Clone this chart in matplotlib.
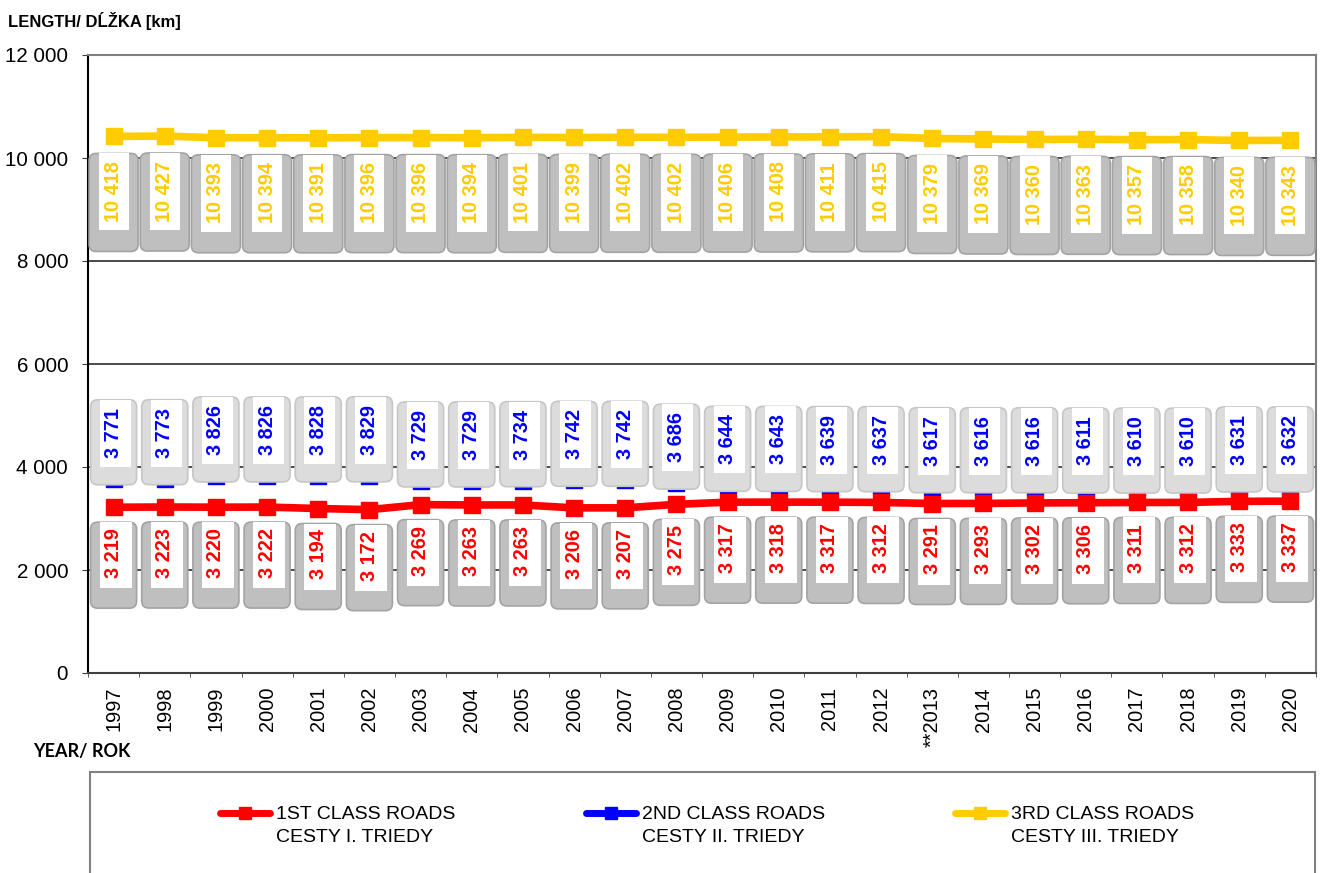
import matplotlib
matplotlib.use('Agg')
import matplotlib.pyplot as plt
from matplotlib.patches import FancyBboxPatch, Rectangle
from matplotlib.lines import Line2D
from matplotlib.transforms import ScaledTranslation
import numpy as np

plt.rcParams['font.family'] = ['Liberation Sans', 'DejaVu Sans']

# --- data ---
years = ['1997', '1998', '1999', '2000', '2001', '2002', '2003', '2004', '2005',
         '2006', '2007', '2008', '2009', '2010', '2011', '2012', '**2013', '2014',
         '2015', '2016', '2017', '2018', '2019', '2020']
roads_1st = [3219, 3223, 3220, 3222, 3194, 3172, 3269, 3263, 3263, 3206, 3207, 3275,
             3317, 3318, 3317, 3312, 3291, 3293, 3302, 3306, 3311, 3312, 3333, 3337]
roads_2nd = [3771, 3773, 3826, 3826, 3828, 3829, 3729, 3729, 3734, 3742, 3742, 3686,
             3644, 3643, 3639, 3637, 3617, 3616, 3616, 3611, 3610, 3610, 3631, 3632]
roads_3rd = [10418, 10427, 10393, 10394, 10391, 10396, 10396, 10394, 10401, 10399, 10402, 10402,
             10406, 10408, 10411, 10415, 10379, 10369, 10360, 10363, 10357, 10358, 10340, 10343]
yticks = [0, 2000, 4000, 6000, 8000, 10000, 12000]

RED = '#FF0000'
BLUE = '#0000FF'
YELLOW = '#FFCC00'
W, H = 1323, 873


def fmt(v):
    return f'{v:,}'.replace(',', ' ')


fig = plt.figure(figsize=(W / 100, H / 100), dpi=100)
ax = fig.add_axes([88 / W, 200 / H, 1228 / W, 618 / H])
x = np.arange(len(years))
ax.set_xlim(-0.5, len(years) - 0.5)
ax.set_ylim(0, 12000)

ax.set_yticks(yticks)
ax.set_yticklabels([fmt(v) for v in yticks])
ax.yaxis.grid(True, color='#1a1a1a', lw=1.1, zorder=0)
ax.set_axisbelow(True)

ax.set_xticks(x)
ax.set_xticklabels(years, rotation=90)
ax.set_xticks(np.arange(-0.5, len(years)), minor=True)
ax.tick_params(axis='x', which='major', length=0, pad=10, labelsize=14.4)
ax.tick_params(axis='x', which='minor', length=3, direction='out', color='#404040')
ax.tick_params(axis='y', length=4.3, direction='out', pad=10, labelsize=14.8, color='#404040')

ax.spines['left'].set_color('#000000')
ax.spines['bottom'].set_color('#404040')
ax.spines['top'].set_color('#808080')
ax.spines['right'].set_color('#808080')
for s in ax.spines.values():
    s.set_linewidth(1.5)


# label box: gray rounded "button" with white window, offsets in pixels from the point
def add_label(xi, yi, val, tcol, face, edge, box, white, ty, z):
    tr = fig.dpi_scale_trans + ScaledTranslation(xi, yi, ax.transData)
    bx0, by0, bx1, by1 = box
    wx0, wy0, wx1, wy1 = white
    ax.add_patch(FancyBboxPatch((bx0 / 100, by0 / 100), (bx1 - bx0) / 100, (by1 - by0) / 100,
                                boxstyle='round,pad=0,rounding_size=0.07', fc=face, ec=edge,
                                lw=1.2, transform=tr, zorder=z, clip_on=False))
    ax.add_patch(Rectangle((wx0 / 100, wy0 / 100), (wx1 - wx0) / 100, (wy1 - wy0) / 100,
                           fc='white', ec='none', transform=tr, zorder=z, clip_on=False))
    ax.text(0, ty / 100, fmt(val), transform=tr, rotation=90, ha='center', va='center',
            color=tcol, fontsize=14.4, fontweight='bold', zorder=z + 0.1)


kw = dict(lw=5.5, marker='s', ms=12, solid_joinstyle='miter')

# 2nd class: hidden behind its own labels, only marker edges peek out
ax.plot(x, roads_2nd, color=BLUE, lw=0, marker='s', ms=12, zorder=2)
for xi, v in zip(x, roads_2nd):
    add_label(xi, v, v, BLUE, '#DCDCDC', '#C6C6C6',
              (-23, -6, 23, 79), (-14, 12, 17, 79), 46, 3)

# 1st class
ax.plot(x, roads_1st, color=RED, zorder=4, **kw)
for xi, v in zip(x, roads_1st):
    add_label(xi, v, v, RED, '#BFBFBF', '#A3A3A3',
              (-23, -101, 23, -15), (-14, -81, 18, -15), -46, 5)

# 3rd class
ax.plot(x, roads_3rd, color=YELLOW, zorder=6, **kw)
for xi, v in zip(x, roads_3rd):
    add_label(xi, v, v, YELLOW, '#BFBFBF', '#A3A3A3',
              (-24.5, -115, 24.5, -17), (-15, -94, 15, -17), -55, 7)

fig.text(8 / W, 1 - 21 / H, 'LENGTH/ DĹŽKA [km]', fontsize=12, fontweight='bold',
         va='center', ha='left')
fig.text(33 / W, 1 - 752 / H, 'YEAR/ ROK', fontsize=13, fontweight='bold',
         family=['Lato', 'DejaVu Sans'], va='center', ha='left')

# legend (handle sits on the first text line, as in the original)
names = ['1ST CLASS ROADS\nCESTY I. TRIEDY', '2ND CLASS ROADS\nCESTY II. TRIEDY',
         '3RD CLASS ROADS\nCESTY III. TRIEDY']
leg_x = [217, 583, 952]
for x0, c, name in zip(leg_x, (RED, BLUE, YELLOW), names):
    fig.add_artist(Line2D([(x0 + 3) / W, (x0 + 53) / W], [1 - 813 / H] * 2, color=c, lw=5,
                          solid_capstyle='round', transform=fig.transFigure))
    fig.add_artist(Line2D([(x0 + 28) / W], [1 - 813 / H], color=c, marker='s', ms=8,
                          transform=fig.transFigure))
    fig.text((x0 + 59) / W, 1 - 826 / H, name, fontsize=14, linespacing=1.5,
             va='center', ha='left')
fig.add_artist(Rectangle((90 / W, -0.05), (1315 - 90) / W, (H - 772) / H + 0.05,
                         transform=fig.transFigure, fill=False, ec='#808080', lw=1.5,
                         clip_on=False))

fig.savefig('out.png', dpi=100)
